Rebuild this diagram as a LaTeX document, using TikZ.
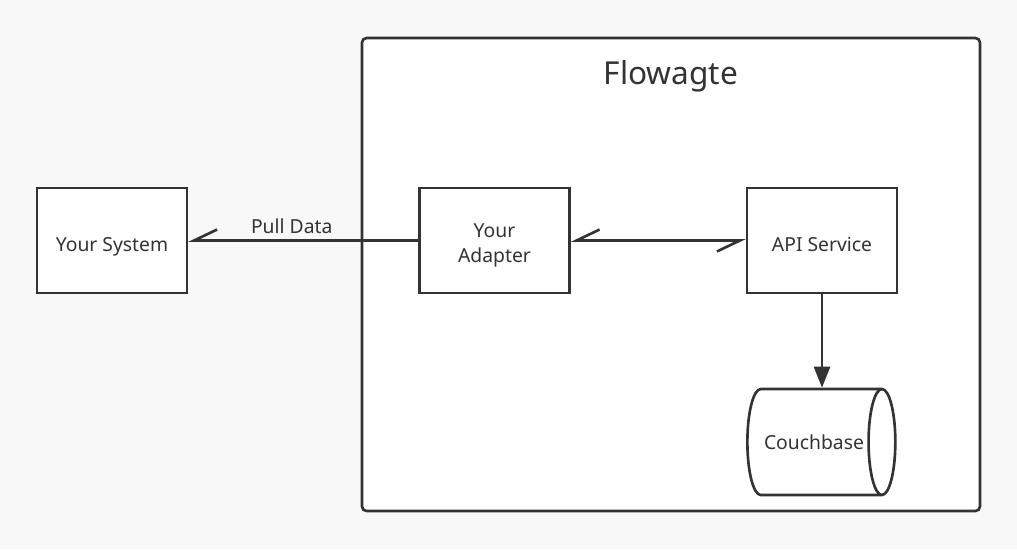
\documentclass[tikz,border=0pt]{standalone}
\usepackage{fontspec}
\setmainfont{Noto Sans}
\usetikzlibrary{arrows.meta,shapes.geometric}
\definecolor{ink}{HTML}{333333}
\definecolor{paper}{HTML}{F8F8F8}
\tikzset{
  box/.style={draw=ink, fill=white, line width=1.5pt, minimum width=3cm,
    minimum height=2.1cm, inner sep=0pt, text=ink, align=center,
    text height=12pt, text depth=0pt, font=\fontsize{11}{14}\selectfont},
  store/.style={cylinder, shape aspect=1.8, draw=ink, fill=white,
    line width=1.5pt, minimum height=2.96cm, minimum width=2.12cm,
    inner sep=0pt, text=ink, font=\fontsize{11}{14}\selectfont},
  frame/.style={draw=ink, fill=white, line width=1.5pt, rounded corners=2.5pt,
    minimum width=12.36cm, minimum height=9.46cm, inner sep=0pt},
  link/.style={draw=ink, line width=1.5pt},
  halfbarb/.tip={Straight Barb[right, length=0.46cm, width=0.44cm]}
}
\begin{document}
\begin{tikzpicture}[x=0.02cm, y=-0.02cm]
      \fill[paper] (0,0) rectangle (1017,549);
      \useasboundingbox (0,0) rectangle (1017,549);
      \draw
        (671,274.5) node[frame] (flowagte){}
        (671,76) node[text=ink, font=\fontsize{18}{22}\selectfont] (title){Flowagte}
        (112,240.5) node[box] (system){Your System}
        (494.5,240.5) node[box, text height=24.5pt] (adapter){Your\\Adapter}
        (822,240.5) node[box] (api){API Service}
        (814,442) node[store] (db){Couchbase};
      \draw[link, -halfbarb] (adapter) to node[pos=0.55, above, text=ink,
        font=\fontsize{11}{14}\selectfont] (pull){Pull Data} (system);
      \draw[link, halfbarb-halfbarb] (adapter) to (api);
      \draw[link, -{Triangle[length=0.42cm, width=0.32cm]}] (api) to (api |- db.north);
    \end{tikzpicture}
\end{document}
